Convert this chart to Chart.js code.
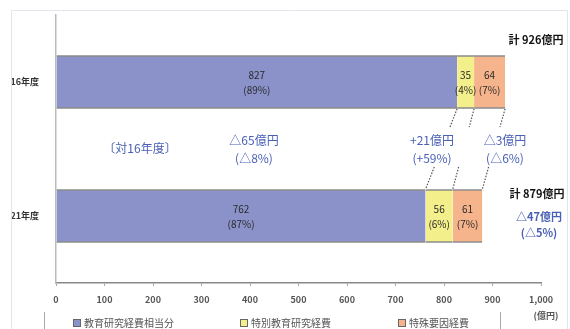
<!DOCTYPE html>
<html><head><meta charset="utf-8">
<script src="https://cdn.jsdelivr.net/npm/chart.js@4/dist/chart.umd.min.js"></script>
<style>html,body{margin:0;padding:0;background:#fff}#wrap{width:570px;height:329px;position:relative}</style>
</head><body><div id="wrap"><canvas id="c" width="570" height="329"></canvas></div>
<script>
const categories = ['16年度', '21年度'];
const seriesNames = ['教育研究経費相当分', '特別教育研究経費', '特殊要因経費'];
const eduValues = [827, 762];
const specialValues = [35, 56];
const factorValues = [64, 61];
const eduPct = [89, 87];
const specialPct = [4, 6];
const factorPct = [7, 7];
const totals = [926, 879];
const xTickValues = [0, 100, 200, 300, 400, 500, 600, 700, 800, 900, 1000];
const unitLabel = '(億円)';
const compareTitle = '〔対16年度〕';
const changeAmounts = ['△65億円', '+21億円', '△3億円'];
const changePcts = ['(△8%)', '(+59%)', '(△6%)'];
const totalChange = ['△47億円', '(△5%)'];

const colors = ['#8a92c9', '#f3f08c', '#f6b48c'];
const JP = '"Noto Sans CJK JP", "Noto Sans", sans-serif';
const blueText = '#4a60b4';

const fmt = v => v.toLocaleString('en-US');

const overlay = {
  id: 'overlay',
  afterDatasetsDraw(chart) {
    const ctx = chart.ctx;
    const xs = chart.scales.x;
    const metas = [0,1,2].map(i => chart.getDatasetMeta(i));
    const pcts = [eduPct, specialPct, factorPct];
    ctx.save();
    ctx.textAlign = 'center'; ctx.textBaseline = 'middle';
    ctx.fillStyle = '#2a2a2a';
    ctx.font = '10px ' + JP;
    for (let d = 0; d < 3; d++) {
      const ds = chart.data.datasets[d];
      metas[d].data.forEach((el, i) => {
        const cx = (el.x + el.base) / 2;
        ctx.fillText(String(ds.data[i]), cx, el.y - 7);
        ctx.fillText('(' + pcts[d][i] + '%)', cx, el.y + 8);
      });
    }
    const top = metas[0].data[0], bot = metas[0].data[1];
    const y1 = top.y + top.height / 2, y2 = bot.y - bot.height / 2;
    const cum0 = [0], cum1 = [0];
    ctx.strokeStyle = '#555'; ctx.lineWidth = 1.2; ctx.setLineDash([1.5, 1.5]);
    for (let d = 0; d < 3; d++) {
      const v = chart.data.datasets[d].data;
      cum0[0] += v[0]; cum1[0] += v[1];
      const xa = xs.getPixelForValue(cum0[0]), xb = xs.getPixelForValue(cum1[0]);
      const t1 = (127 - y1) / (y2 - y1), t2 = (167 - y1) / (y2 - y1);
      ctx.beginPath();
      ctx.moveTo(xa, y1); ctx.lineTo(xa + (xb - xa) * t1, y1 + (y2 - y1) * t1);
      ctx.moveTo(xa + (xb - xa) * t2, y1 + (y2 - y1) * t2); ctx.lineTo(xb, y2);
      ctx.stroke();
    }
    ctx.setLineDash([]);
    ctx.fillStyle = '#111';
    ctx.font = 'bold 11px ' + JP;
    ctx.fillText('計 ' + totals[0] + '億円', 536, 40);
    ctx.fillText('計 ' + totals[1] + '億円', 537, 194);
    ctx.fillStyle = blueText;
    ctx.font = '12px ' + JP;
    ctx.fillText(compareTitle, 140, 148);
    const cxs = [254, 432, 505];
    for (let k = 0; k < 3; k++) {
      ctx.fillText(changeAmounts[k], cxs[k], 140);
      ctx.fillText(changePcts[k], cxs[k], 158);
    }
    ctx.font = 'bold 11px ' + JP;
    ctx.fillText(totalChange[0], 539, 217);
    ctx.fillText(totalChange[1], 539, 233);
    ctx.fillStyle = '#555';
    ctx.font = 'bold 9px ' + JP;
    ctx.fillText(unitLabel, 546, 316);
    const lx = [73, 240, 398];
    ctx.textAlign = 'left';
    ctx.font = '10px ' + JP;
    for (let d = 0; d < 3; d++) {
      ctx.fillStyle = colors[d];
      ctx.fillRect(lx[d], 319, 8, 8);
      ctx.strokeStyle = '#666'; ctx.lineWidth = 1;
      ctx.strokeRect(lx[d] + 0.5, 319.5, 7, 7);
      ctx.fillStyle = '#555';
      ctx.fillText(seriesNames[d], lx[d] + 11, 323.5);
    }
    ctx.strokeStyle = '#aaa'; ctx.lineWidth = 1;
    ctx.beginPath();
    ctx.moveTo(44.5, 312); ctx.lineTo(44.5, 329);
    ctx.moveTo(500.5, 312); ctx.lineTo(500.5, 329);
    ctx.stroke();
    ctx.strokeStyle = '#e1e6ee';
    ctx.beginPath();
    ctx.moveTo(11.5, 329); ctx.lineTo(11.5, 10.5); ctx.lineTo(567.5, 10.5); ctx.lineTo(567.5, 329);
    ctx.stroke();
    ctx.restore();
  }
};

const datasets = [eduValues, specialValues, factorValues].map((vals, d) => ({
  label: seriesNames[d],
  data: vals,
  backgroundColor: colors[d],
  borderColor: '#666',
  borderWidth: {top: 1.5, bottom: 1.5, left: 0, right: 0},
  borderSkipped: false,
  barPercentage: 0.8,
  categoryPercentage: 0.5
}));

new Chart(document.getElementById('c'), {
  type: 'bar',
  data: { labels: categories, datasets },
  options: {
    indexAxis: 'y',
    responsive: false,
    animation: false,
    layout: { padding: { top: 15, right: 29, left: 0, bottom: 0 } },
    plugins: { legend: { display: false }, tooltip: { enabled: false } },
    scales: {
      x: {
        stacked: true, min: 0, max: 1000,
        afterBuildTicks: s => { s.ticks = xTickValues.map(v => ({ value: v })); },
        afterFit: s => { s.height = 46; },
        grid: { display: true, drawOnChartArea: false, drawTicks: true, tickLength: 3, color: '#aaa' },
        border: { display: true, color: '#888', width: 1.5 },
        ticks: { callback: v => fmt(v), color: '#555', font: { family: JP, size: 9, weight: 'bold' }, padding: 8, maxRotation: 0, autoSkip: false }
      },
      y: {
        stacked: true,
        afterFit: s => { s.width = 56; },
        grid: { display: false },
        border: { display: true, color: '#bbb', width: 1.5 },
        ticks: { color: '#333', font: { family: JP, size: 9, weight: 'bold' }, padding: 9 }
      }
    }
  },
  plugins: [overlay]
});
</script></body></html>
